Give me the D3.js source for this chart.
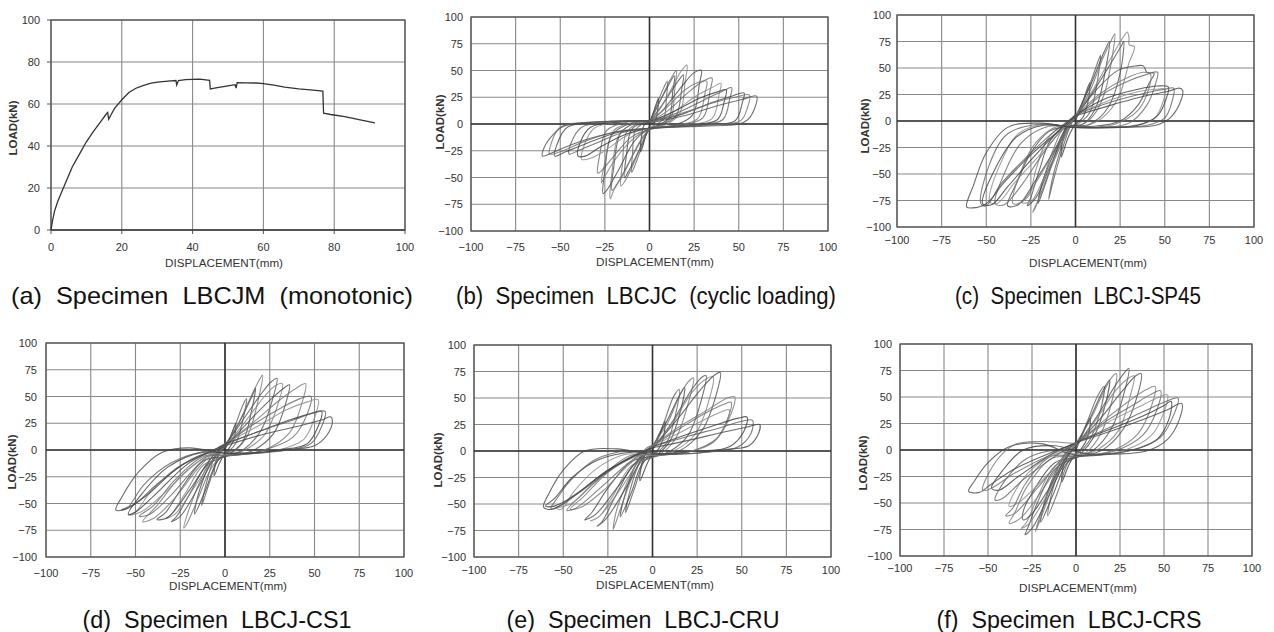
<!DOCTYPE html>
<html>
<head>
<meta charset="utf-8">
<script src="https://cdn.jsdelivr.net/npm/d3@7"></script>
<style>
  body { margin: 0; background: #fff; }
</style>
</head>
<body>
<script>
// ---- data ----
// (a) monotonic test
const monoDisp = [0, 0.5, 1, 2, 4, 6, 8, 10, 12, 14, 15.5, 16, 16.3, 17, 18, 20, 22, 24, 26, 28, 30, 33, 35.3, 35.5, 36, 38, 42, 44.8, 45, 47, 50, 52, 52.3, 52.6, 55, 58, 60, 63, 66, 70, 74, 76.8, 77, 79, 83, 87, 91.5];
const monoLoad = [0, 5, 9, 14, 22, 30, 36, 42, 47, 51.5, 55, 56, 52.8, 55, 58, 62, 65.5, 67.5, 68.8, 69.8, 70.4, 70.9, 71.2, 69, 71.2, 71.6, 71.8, 71.3, 67.2, 67.8, 68.6, 69.2, 67.6, 70.2, 70.1, 70, 69.7, 69, 68, 67.2, 66.6, 66.2, 55.6, 55, 54, 52.6, 51];

// cyclic tests: one list of [disp, load] points per cycle
const cyclesB = [
  [[0,0],[2,10],[4,20],[5,24],[4.5,12],[3,2],[0,-2],[-2,-10],[-4,-22],[-5,-26],[-4.5,-12],[-3,-1],[0,2]],
  [[0,1],[4,18],[8,34],[10,40],[9.5,25],[8,5],[4,0],[0,-4],[-4,-20],[-8,-38],[-10,-45],[-9.5,-28],[-8,-6],[-4,0],[0,2]],
  [[0,2],[8,28],[14,45],[13,30],[11,6],[5,-1],[0,-5],[-6,-25],[-12,-45],[-14,-50],[-13,-30],[-10,-5],[-4,1],[0,3]],
  [[0,1],[5,18],[10,36],[14,48],[15,50],[14,30],[12,6],[6,-1],[0,-5],[-5,-22],[-12,-48],[-16,-58],[-15,-35],[-13,-8],[-6,1],[0,3]],
  [[0,2],[8,20],[16,40],[19,46],[18,32],[15,8],[8,0],[0,-5],[-8,-25],[-16,-50],[-21,-62],[-20,-40],[-16,-8],[-8,1],[0,3]],
  [[0,2],[5,12],[12,32],[18,50],[21,55],[20,40],[17,10],[10,0],[0,-5],[-6,-18],[-14,-45],[-20,-62],[-22,-70],[-21,-45],[-17,-10],[-8,1],[0,3]],
  [[0,2],[8,14],[18,35],[25,48],[29,50],[28,38],[24,8],[14,-1],[0,-5],[-8,-15],[-18,-45],[-24,-62],[-26,-65],[-25,-44],[-21,-10],[-10,1],[0,3]],
  [[0,2],[10,16],[20,32],[26,38],[32,40],[31,28],[27,5],[15,-1],[0,-5],[-10,-15],[-20,-35],[-26,-52],[-27,-55],[-25,-36],[-20,-6],[-10,1],[0,3]],
  [[0,2],[10,12],[22,30],[30,40],[35,43],[34,32],[30,6],[18,-1],[0,-5],[-10,-12],[-20,-30],[-27,-44],[-29,-46],[-28,-30],[-24,-6],[-12,2],[0,3]],
  [[0,2],[12,10],[26,26],[35,34],[40,38],[39,28],[35,5],[20,-1],[0,-4],[-12,-10],[-25,-25],[-33,-32],[-38,-33],[-37,-22],[-31,-4],[-15,2],[0,3]],
  [[0,2],[14,12],[28,24],[38,30],[43,32],[42,22],[38,4],[22,-1],[0,-4],[-14,-10],[-28,-22],[-36,-30],[-40,-30],[-39,-18],[-33,-3],[-16,2],[0,3]],
  [[0,2],[15,10],[30,22],[40,30],[46,34],[45,24],[41,4],[25,-1],[0,-4],[-15,-8],[-30,-18],[-40,-25],[-45,-28],[-44,-18],[-38,-3],[-20,2],[0,3]],
  [[0,2],[18,9],[35,20],[46,26],[53,29],[52,20],[48,3],[30,-1],[0,-4],[-18,-8],[-35,-18],[-47,-26],[-53,-30],[-52,-20],[-46,-3],[-25,2],[0,3]],
  [[0,2],[18,10],[36,20],[48,25],[56,27],[55,16],[51,3],[32,-1],[0,-4],[-18,-7],[-36,-16],[-50,-26],[-56,-28],[-55,-18],[-50,-3],[-26,2],[0,3]],
  [[0,1],[20,8],[40,18],[52,23],[60,26],[59,15],[55,4],[50,0],[30,-2],[0,-4],[-20,-8],[-40,-17],[-52,-25],[-60,-30],[-59,-22],[-54,-10],[-48,-2],[-30,2],[0,3]]
];

const cyclesC = [
  [[0,0],[4,18],[8,36],[7,18],[4,3],[0,-3],[-4,-15],[-8,-34],[-7,-16],[-4,-2],[0,3]],
  [[0,3],[7,30],[13,58],[14,62],[12,35],[8,8],[2,-2],[-4,-6],[-8,-25],[-13,-55],[-15,-74],[-13,-60],[-8,-30],[-3,-5],[0,4]],
  [[0,4],[8,32],[16,65],[19,75],[17,50],[12,15],[5,-2],[-4,-6],[-10,-25],[-17,-60],[-21,-78],[-19,-60],[-12,-30],[-4,-2],[0,5]],
  [[0,4],[8,28],[15,58],[20,76],[22,82],[21,65],[16,25],[10,5],[3,-4],[-6,-6],[-12,-25],[-18,-55],[-22,-80],[-24,-86],[-21,-75],[-14,-45],[-6,-15],[0,5]],
  [[0,5],[10,28],[20,55],[26,72],[27,75],[25,45],[18,12],[8,-3],[-5,-6],[-14,-18],[-20,-45],[-25,-72],[-27,-80],[-22,-72],[-14,-42],[-5,-8],[0,6]],
  [[0,5],[10,30],[20,60],[27,80],[29,84],[30,78],[30,72],[33,70],[30,55],[24,22],[15,3],[5,-5],[-8,-6],[-16,-18],[-22,-45],[-26,-70],[-30,-77],[-25,-76],[-18,-55],[-9,-25],[-2,0],[2,8]],
  [[2,8],[12,30],[24,48],[34,52],[38,52],[40,46],[44,45],[41,35],[35,15],[25,0],[10,-5],[-5,-5],[-15,-10],[-25,-30],[-32,-55],[-38,-80],[-32,-79],[-22,-55],[-12,-28],[-3,-2],[3,8]],
  [[2,8],[14,26],[28,40],[38,46],[42,44],[41,30],[35,10],[22,-3],[5,-6],[-10,-5],[-22,-20],[-30,-45],[-35,-78],[-30,-76],[-20,-52],[-10,-22],[0,6]],
  [[3,8],[15,25],[30,38],[40,44],[46,46],[45,36],[40,15],[30,-2],[15,-6],[0,-6],[-15,-5],[-30,-20],[-40,-50],[-45,-78],[-40,-79],[-30,-60],[-18,-30],[-6,-5],[2,8]],
  [[0,6],[20,20],[36,28],[46,30],[50,30],[49,18],[44,2],[30,-5],[0,-6],[-18,-3],[-32,-12],[-42,-40],[-48,-76],[-44,-78],[-34,-58],[-20,-32],[-6,-5],[0,6]],
  [[2,8],[18,22],[35,30],[46,33],[52,32],[51,22],[46,5],[35,-4],[15,-6],[0,-6],[-18,-4],[-33,-15],[-45,-45],[-52,-78],[-47,-79],[-38,-62],[-24,-35],[-10,-10],[0,6]],
  [[0,6],[20,18],[38,26],[50,30],[55,31],[54,18],[50,3],[40,-4],[20,-6],[0,-6],[-20,-3],[-38,-12],[-48,-40],[-53,-78],[-50,-80],[-42,-60],[-28,-35],[-12,-10],[0,5]],
  [[0,5],[20,15],[40,24],[52,28],[58,31],[60,29],[58,15],[53,3],[45,-4],[25,-6],[0,-6],[-20,-2],[-38,-6],[-50,-30],[-57,-60],[-61,-81],[-58,-82],[-50,-78],[-40,-58],[-25,-32],[-10,-10],[0,5]]
];

const cyclesD = [
  [[0,0],[3,12],[6,25],[5,10],[2,1],[0,-3],[-3,-12],[-6,-24],[-5,-10],[-2,-1],[0,2]],
  [[0,2],[5,20],[10,42],[12,48],[10,28],[6,6],[1,-3],[-4,-10],[-9,-32],[-13,-52],[-11,-35],[-6,-8],[-1,3]],
  [[0,3],[8,26],[15,50],[17,58],[15,38],[10,8],[3,-3],[-4,-10],[-11,-38],[-17,-60],[-15,-42],[-8,-12],[-1,4]],
  [[-1,3],[6,20],[14,48],[19,65],[21,70],[19,50],[13,15],[6,0],[-2,-6],[-8,-18],[-15,-45],[-21,-68],[-23,-73],[-20,-55],[-12,-22],[-4,2],[1,6]],
  [[1,6],[10,28],[20,52],[26,64],[29,67],[27,50],[20,18],[10,0],[0,-6],[-10,-14],[-20,-42],[-27,-62],[-30,-67],[-25,-62],[-15,-35],[-6,-8],[2,6]],
  [[1,5],[12,28],[22,50],[28,60],[32,62],[30,45],[22,14],[10,-1],[0,-6],[-12,-14],[-22,-40],[-30,-60],[-33,-64],[-28,-60],[-16,-32],[-5,-5],[2,7]],
  [[2,6],[14,28],[26,48],[33,58],[36,61],[34,44],[27,15],[15,-1],[0,-6],[-12,-10],[-24,-35],[-33,-58],[-38,-65],[-32,-63],[-20,-38],[-8,-8],[2,8]],
  [[2,8],[16,26],[30,46],[40,58],[45,62],[43,44],[36,16],[22,0],[5,-5],[-10,-6],[-25,-25],[-38,-52],[-46,-67],[-40,-64],[-28,-45],[-14,-15],[0,6]],
  [[2,7],[16,24],[32,40],[42,48],[48,50],[46,34],[38,12],[22,0],[5,-5],[-12,-6],[-28,-28],[-40,-52],[-48,-62],[-42,-60],[-30,-42],[-14,-12],[0,6]],
  [[0,6],[18,22],[35,38],[46,45],[52,47],[50,30],[44,10],[30,0],[10,-4],[-10,-3],[-28,-18],[-42,-40],[-50,-58],[-54,-61],[-47,-58],[-35,-42],[-18,-15],[0,5]],
  [[0,6],[20,18],[36,28],[48,34],[54,36],[52,22],[46,6],[30,0],[8,-4],[-12,-2],[-32,-16],[-46,-40],[-54,-60],[-50,-58],[-38,-40],[-20,-12],[0,5]],
  [[0,5],[20,18],[38,28],[50,35],[56,36],[54,22],[48,6],[35,0],[15,-3],[-10,-1],[-30,-12],[-45,-32],[-55,-55],[-58,-56],[-50,-50],[-38,-32],[-20,-10],[0,4]],
  [[0,4],[20,14],[40,22],[54,28],[59,31],[60,27],[57,14],[50,4],[40,1],[20,-2],[0,-3],[-20,2],[-35,-2],[-48,-20],[-58,-45],[-61,-56],[-55,-55],[-42,-40],[-25,-15],[-8,-2],[0,3]]
];

const cyclesE = [
  [[0,0],[4,15],[7,28],[6,12],[3,1],[0,-3],[-3,-12],[-7,-28],[-6,-12],[-3,-1],[0,3]],
  [[0,3],[6,25],[12,52],[15,58],[13,35],[8,8],[2,-2],[-4,-8],[-10,-35],[-15,-58],[-13,-40],[-7,-10],[-1,3]],
  [[0,4],[8,28],[15,52],[18,60],[16,40],[10,10],[3,-3],[-5,-10],[-12,-40],[-18,-62],[-16,-45],[-9,-12],[-1,4]],
  [[-1,3],[8,25],[16,55],[21,67],[23,69],[20,45],[13,12],[5,-2],[-4,-6],[-10,-20],[-17,-50],[-22,-74],[-20,-55],[-12,-22],[-4,2],[2,6]],
  [[2,6],[12,30],[22,58],[28,70],[30,71],[28,52],[20,15],[10,0],[0,-6],[-10,-12],[-20,-40],[-28,-66],[-31,-71],[-26,-64],[-15,-35],[-5,-5],[2,6]],
  [[1,5],[12,28],[22,55],[30,68],[34,70],[32,50],[24,16],[12,0],[0,-6],[-12,-14],[-22,-42],[-30,-62],[-35,-66],[-30,-62],[-18,-36],[-6,-6],[2,6]],
  [[2,6],[14,30],[28,60],[35,72],[38,74],[36,55],[28,20],[15,0],[0,-5],[-12,-10],[-25,-35],[-34,-58],[-38,-65],[-32,-60],[-20,-35],[-8,-8],[1,6]],
  [[1,6],[16,24],[32,40],[42,50],[46,51],[44,35],[36,12],[22,0],[5,-4],[-10,-4],[-25,-20],[-38,-42],[-46,-55],[-40,-53],[-28,-38],[-14,-14],[0,5]],
  [[1,6],[16,22],[30,36],[40,44],[44,46],[42,30],[35,10],[20,-1],[2,-4],[-12,-4],[-26,-20],[-40,-42],[-48,-56],[-43,-54],[-30,-36],[-14,-12],[0,5]],
  [[0,5],[16,18],[32,32],[40,38],[43,39],[41,25],[34,8],[20,-1],[0,-4],[-15,-3],[-30,-15],[-44,-38],[-51,-55],[-54,-54],[-46,-50],[-34,-32],[-16,-10],[0,4]],
  [[0,4],[20,16],[38,26],[48,31],[53,32],[51,18],[44,5],[30,-1],[10,-3],[-10,-1],[-30,-8],[-45,-25],[-55,-45],[-60,-52],[-55,-52],[-42,-40],[-25,-18],[-8,-3],[0,3]],
  [[0,4],[20,14],[38,22],[50,28],[56,29],[55,16],[48,4],[32,-1],[5,-3],[-14,0],[-32,-8],[-46,-28],[-54,-46],[-57,-54],[-52,-52],[-40,-38],[-22,-16],[-6,-2],[0,3]],
  [[0,3],[20,10],[40,18],[54,23],[60,25],[59,15],[54,5],[45,2],[25,0],[0,-3],[-20,2],[-38,0],[-50,-18],[-58,-40],[-61,-53],[-56,-55],[-44,-42],[-28,-22],[-10,-4],[0,3]]
];

const cyclesF = [
  [[0,0],[4,16],[8,30],[7,14],[3,1],[0,-3],[-4,-14],[-8,-30],[-7,-14],[-3,-1],[0,3]],
  [[0,3],[6,25],[12,50],[16,60],[14,38],[8,10],[2,-2],[-4,-10],[-10,-38],[-16,-62],[-14,-42],[-7,-10],[-1,4]],
  [[0,4],[8,30],[15,55],[19,66],[17,45],[10,12],[3,-3],[-5,-12],[-13,-42],[-20,-68],[-18,-50],[-10,-15],[-2,5]],
  [[-1,4],[8,28],[16,56],[21,70],[23,72],[21,50],[14,15],[6,-2],[-4,-8],[-12,-30],[-19,-60],[-23,-77],[-20,-60],[-12,-25],[-4,3],[2,8]],
  [[2,8],[12,32],[22,60],[28,74],[30,77],[28,58],[20,20],[10,0],[0,-7],[-12,-18],[-22,-50],[-27,-72],[-29,-80],[-25,-74],[-16,-45],[-6,-10],[2,8]],
  [[2,8],[12,30],[22,55],[30,68],[33,70],[31,52],[24,18],[12,0],[0,-7],[-12,-15],[-22,-45],[-28,-68],[-31,-74],[-27,-70],[-17,-44],[-6,-9],[2,8]],
  [[2,8],[14,30],[26,55],[34,70],[37,72],[35,52],[27,20],[15,0],[0,-7],[-12,-12],[-24,-38],[-30,-58],[-30,-66],[-26,-62],[-16,-38],[-6,-8],[2,8]],
  [[2,8],[16,28],[30,46],[40,57],[45,60],[43,42],[35,15],[20,-1],[0,-6],[-14,-8],[-28,-35],[-35,-60],[-38,-69],[-32,-65],[-20,-40],[-8,-10],[1,8]],
  [[2,8],[16,26],[32,42],[42,52],[48,56],[46,38],[38,14],[22,-1],[2,-6],[-14,-6],[-28,-30],[-36,-55],[-40,-62],[-35,-60],[-22,-36],[-8,-8],[1,8]],
  [[1,8],[18,26],[35,40],[46,49],[52,52],[50,36],[43,14],[28,0],[8,-5],[-10,-3],[-25,-18],[-35,-40],[-38,-53],[-33,-50],[-20,-30],[-6,-5],[1,8]],
  [[1,8],[20,20],[38,32],[50,42],[54,46],[53,30],[46,10],[30,-1],[8,-4],[-12,4],[-30,0],[-42,-20],[-48,-36],[-44,-38],[-32,-24],[-14,-4],[0,7]],
  [[1,8],[20,22],[38,36],[50,45],[58,49],[56,35],[48,12],[32,0],[10,-4],[-10,0],[-28,-8],[-40,-28],[-46,-47],[-42,-46],[-30,-28],[-12,-6],[0,7]],
  [[0,7],[20,18],[40,30],[52,38],[60,44],[59,30],[52,10],[40,-1],[20,-4],[0,-5],[-20,6],[-38,3],[-50,-12],[-58,-30],[-61,-39],[-55,-40],[-48,-32],[-35,-18],[-15,-3],[0,6]],
  [[0,6],[-20,8],[-35,5],[-46,-12],[-53,-38],[-48,-36],[-35,-22],[-15,-5],[0,5]]
];

const monoTicks = [0, 20, 40, 60, 80, 100];
const cyclicTicks = [-100, -75, -50, -25, 0, 25, 50, 75, 100];

const captions = [
  "(a)  Specimen  LBCJM  (monotonic)",
  "(b)  Specimen  LBCJC  (cyclic loading)",
  "(c)  Specimen  LBCJ-SP45",
  "(d)  Specimen  LBCJ-CS1",
  "(e)  Specimen  LBCJ-CRU",
  "(f)  Specimen  LBCJ-CRS"
];

// ---- layout (pixel boxes of each panel) ----
const panels = [
  {x0: 51,  x1: 405,  y0: 20,  y1: 230, mono: true, yLabX: 13,  yLabY: 128, tickY: 251, xLabY: 267, xLabX: 224,  capX: 212,  capY: 304, capW: 402, yTickR: 40},
  {x0: 471, x1: 828,  y0: 17,  y1: 231, data: cyclesB, yLabX: 440, yLabY: 122, tickY: 251, xLabY: 266, xLabX: 655,  capX: 646,  capY: 304, capW: 380, yTickR: 463},
  {x0: 897, x1: 1254, y0: 15,  y1: 227, data: cyclesC, yLabX: 865, yLabY: 126, tickY: 244, xLabY: 267, xLabX: 1088, capX: 1078, capY: 304, capW: 246, yTickR: 891},
  {x0: 46,  x1: 404,  y0: 343, y1: 557, data: cyclesD, yLabX: 12,  yLabY: 462, tickY: 577, xLabY: 590, xLabX: 228,  capX: 217,  capY: 628, capW: 269, yTickR: 37},
  {x0: 474, x1: 831,  y0: 345, y1: 557, data: cyclesE, yLabX: 438, yLabY: 460, tickY: 574, xLabY: 589, xLabX: 655,  capX: 643,  capY: 628, capW: 273, yTickR: 466},
  {x0: 900, x1: 1252, y0: 344, y1: 556, data: cyclesF, yLabX: 863, yLabY: 463, tickY: 572, xLabY: 592, xLabX: 1078, capX: 1069, capY: 628, capW: 265, yTickR: 892}
];

const svg = d3.select("body").append("svg")
  .attr("width", 1274)
  .attr("height", 632)
  .style("font-family", "'Liberation Sans', Arial, sans-serif");

const inkColors = ["#3a3a3a", "#5c5c5c", "#454545", "#707070", "#505050", "#808080", "#4a4a4a", "#777", "#666", "#8a8a8a"];

panels.forEach((p, i) => {
  const g = svg.append("g");
  const dom = p.mono ? [0, 100] : [-100, 100];
  const ticks = p.mono ? monoTicks : cyclicTicks;
  const x = d3.scaleLinear().domain(dom).range([p.x0, p.x1]);
  const y = d3.scaleLinear().domain(dom).range([p.y1, p.y0]);

  // grid
  g.append("g").selectAll("line").data(ticks).enter().append("line")
    .attr("x1", d => x(d)).attr("x2", d => x(d))
    .attr("y1", p.y0).attr("y2", p.y1)
    .attr("stroke", "#888").attr("stroke-width", 1.1);
  g.append("g").selectAll("line").data(ticks).enter().append("line")
    .attr("y1", d => y(d)).attr("y2", d => y(d))
    .attr("x1", p.x0).attr("x2", p.x1)
    .attr("stroke", "#888").attr("stroke-width", 1.1);

  g.append("rect")
    .attr("x", p.x0).attr("y", p.y0)
    .attr("width", p.x1 - p.x0).attr("height", p.y1 - p.y0)
    .attr("fill", "none").attr("stroke", "#555").attr("stroke-width", 1.3);

  if (p.mono) {
    // small outward tick marks
    g.append("g").selectAll("line").data(ticks).enter().append("line")
      .attr("x1", d => x(d)).attr("x2", d => x(d))
      .attr("y1", p.y1).attr("y2", p.y1 + 4)
      .attr("stroke", "#555");
    g.append("g").selectAll("line").data(ticks).enter().append("line")
      .attr("y1", d => y(d)).attr("y2", d => y(d))
      .attr("x1", p.x0 - 4).attr("x2", p.x0)
      .attr("stroke", "#555");
    g.append("line")
      .attr("x1", p.x0).attr("x2", p.x1).attr("y1", y(0)).attr("y2", y(0))
      .attr("stroke", "#444").attr("stroke-width", 1.5);
  } else {
    g.append("line")
      .attr("x1", p.x0).attr("x2", p.x1).attr("y1", y(0)).attr("y2", y(0))
      .attr("stroke", "#333").attr("stroke-width", 1.6);
    g.append("line")
      .attr("x1", x(0)).attr("x2", x(0)).attr("y1", p.y0).attr("y2", p.y1)
      .attr("stroke", "#333").attr("stroke-width", 1.6);
  }

  // tick labels
  g.append("g").selectAll("text").data(ticks).enter().append("text")
    .attr("x", d => x(d)).attr("y", p.tickY)
    .attr("text-anchor", "middle")
    .attr("font-size", "11px").attr("fill", "#333")
    .text(d => d3.format("")(d));
  g.append("g").selectAll("text").data(ticks).enter().append("text")
    .attr("x", p.yTickR).attr("y", d => y(d) + 4)
    .attr("text-anchor", "end")
    .attr("font-size", "11px").attr("fill", "#333")
    .text(d => d3.format("")(d));

  // axis titles
  g.append("text")
    .attr("x", p.xLabX).attr("y", p.xLabY)
    .attr("text-anchor", "middle")
    .attr("font-size", "11px").attr("fill", "#333")
    .attr("textLength", 118).attr("lengthAdjust", "spacingAndGlyphs")
    .text("DISPLACEMENT(mm)");
  g.append("text")
    .attr("transform", `translate(${p.yLabX},${p.yLabY}) rotate(-90)`)
    .attr("text-anchor", "middle").attr("dy", "0.35em")
    .attr("font-size", "11.5px").attr("font-weight", "bold").attr("fill", "#333")
    .text("LOAD(kN)");

  // curves
  if (p.mono) {
    const pts = monoDisp.map((d, k) => [d, monoLoad[k]]);
    g.append("path")
      .attr("d", d3.line().x(d => x(d[0])).y(d => y(d[1]))(pts))
      .attr("fill", "none").attr("stroke", "#333").attr("stroke-width", 1.3);
  } else {
    const line = d3.line().x(d => x(d[0])).y(d => y(d[1])).curve(d3.curveCatmullRom.alpha(0.5));
    g.append("g").selectAll("path").data(p.data).enter().append("path")
      .attr("d", line)
      .attr("fill", "none")
      .attr("stroke", (d, k) => inkColors[k % inkColors.length])
      .attr("stroke-width", 1.1)
      .attr("stroke-opacity", 0.8);
  }

  // caption
  svg.append("text")
    .attr("x", p.capX).attr("y", p.capY)
    .attr("text-anchor", "middle")
    .attr("font-size", i === 0 ? "24px" : "23px").attr("fill", "#111")
    .style("white-space", "pre")
    .attr("textLength", p.capW).attr("lengthAdjust", "spacingAndGlyphs")
    .text(captions[i]);
});
</script>
</body>
</html>
